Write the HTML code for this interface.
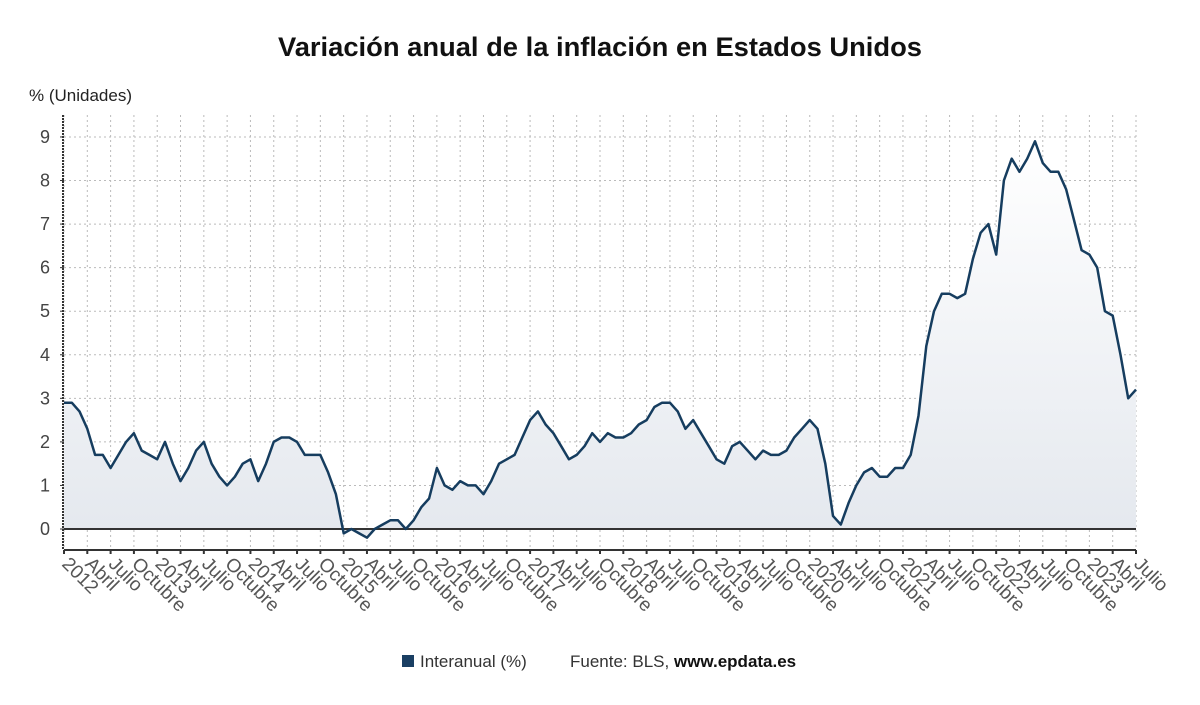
<!DOCTYPE html>
<html><head><meta charset="utf-8"><style>
body{margin:0;background:#fff;font-family:"Liberation Sans",sans-serif;}
svg{display:block}
</style></head><body>
<svg id="chart" width="1200" height="705" viewBox="0 0 1200 705">
<defs><linearGradient id="fillg" x1="0" y1="0" x2="0" y2="1"><stop offset="0" stop-color="#ffffff"/><stop offset="1" stop-color="#e4e8ee"/></linearGradient></defs>
<text x="600" y="56" text-anchor="middle" font-size="27" font-weight="bold" fill="#111" textLength="644" lengthAdjust="spacingAndGlyphs">Variación anual de la inflación en Estados Unidos</text>
<text x="29" y="101" font-size="17" fill="#222">% (Unidades)</text>
<g id="grid"></g>
<g id="area"></g>
<g id="axes"></g>
<g id="labels"></g>
<g>
<rect x="402" y="655" width="12" height="12" fill="#1a3f63"/>
<text x="420" y="667" font-size="17" fill="#333">Interanual (%)</text>
<text x="570" y="667" font-size="17" fill="#333">Fuente: BLS, <tspan font-weight="bold" fill="#111">www.epdata.es</tspan></text>
</g>
</svg>
<script>
const years = [2012,2013,2014,2015,2016,2017,2018,2019,2020,2021,2022,2023];
const quarterNames = ["", "Abril", "Julio", "Octubre"];
const yTicks = [0,1,2,3,4,5,6,7,8,9];
const values = [
2.9,2.9,2.7,2.3,1.7,1.7,1.4,1.7,2.0,2.2,1.8,1.7,
1.6,2.0,1.5,1.1,1.4,1.8,2.0,1.5,1.2,1.0,1.2,1.5,
1.6,1.1,1.5,2.0,2.1,2.1,2.0,1.7,1.7,1.7,1.3,0.8,
-0.1,0.0,-0.1,-0.2,0.0,0.1,0.2,0.2,0.0,0.2,0.5,0.7,
1.4,1.0,0.9,1.1,1.0,1.0,0.8,1.1,1.5,1.6,1.7,2.1,
2.5,2.7,2.4,2.2,1.9,1.6,1.7,1.9,2.2,2.0,2.2,2.1,
2.1,2.2,2.4,2.5,2.8,2.9,2.9,2.7,2.3,2.5,2.2,1.9,
1.6,1.5,1.9,2.0,1.8,1.6,1.8,1.7,1.7,1.8,2.1,2.3,
2.5,2.3,1.5,0.3,0.1,0.6,1.0,1.3,1.4,1.2,1.2,1.4,
1.4,1.7,2.6,4.2,5.0,5.4,5.4,5.3,5.4,6.2,6.8,7.0,
6.3,8.0,8.5,8.2,8.5,8.9,8.4,8.2,8.2,7.8,7.1,6.4,
6.3,6.0,5.0,4.9,4.0,3.0,3.2];
const NS="http://www.w3.org/2000/svg";
const X0=64, X1=1136, Y0=529, YU=43.56, TOP=115, BOT=550;
const n=values.length;
const xs=i=>X0+i*(X1-X0)/(n-1);
const ys=v=>Y0-v*YU;
function mk(tag,attrs,parent){const e=document.createElementNS(NS,tag);for(const k in attrs)e.setAttribute(k,attrs[k]);parent.appendChild(e);return e;}
const grid=document.getElementById('grid'),area=document.getElementById('area'),axes=document.getElementById('axes'),labels=document.getElementById('labels');
yTicks.forEach(t=>{
 const l=mk('line',{x1:X0,x2:X1,y1:ys(t),y2:ys(t),stroke:'#bbb','stroke-dasharray':'2,3'},grid);
 
 
 const tx=mk('text',{x:50,y:ys(t)+6,'text-anchor':'end','font-size':18,fill:'#444'},labels);
 
 
 tx.textContent=t;
 const tk=mk('line',{x1:X0-4,x2:X0,y1:ys(t),y2:ys(t),stroke:'#333'},axes);
 
 
});
for(let i=0;i<n;i+=3){
 const x=xs(i);
 const l=mk('line',{x1:x,x2:x,y1:TOP,y2:BOT,stroke:'#bbb','stroke-dasharray':'2,3'},grid);
 
 
 const q=(i%12)/3;
 const label=q===0?String(years[Math.floor(i/12)]):quarterNames[q];
 const tx=mk('text',{x:x-3,y:BOT+15,'font-size':19,fill:'#555',transform:`rotate(45 ${x-3} ${BOT+15})`},labels);
 
 
 tx.textContent=label;
 const tk=mk('line',{x1:x,x2:x,y1:BOT,y2:BOT+4,stroke:'#333','stroke-width':2},axes);
 
 
}
let pts=values.map((v,i)=>xs(i).toFixed(1)+','+ys(v).toFixed(1));
const a=mk('polygon',{points:xs(0)+','+ys(0)+' '+pts.join(' ')+' '+xs(n-1)+','+ys(0),fill:'url(#fillg)'},area);


const zl=mk('line',{x1:X0,x2:X1,y1:ys(0),y2:ys(0),stroke:'#333','stroke-width':2},area);


const pl=mk('polyline',{points:pts.join(' '),fill:'none',stroke:'#163d5f','stroke-width':2.5,'stroke-linejoin':'round'},area);


const xa=mk('line',{x1:X0,x2:X1,y1:BOT,y2:BOT,stroke:'#333','stroke-width':2},axes);


const ya=mk('line',{x1:X0-1,x2:X0-1,y1:TOP,y2:BOT,stroke:'#333','stroke-width':2,'stroke-dasharray':'2,1'},axes);


</script>
</body></html>
